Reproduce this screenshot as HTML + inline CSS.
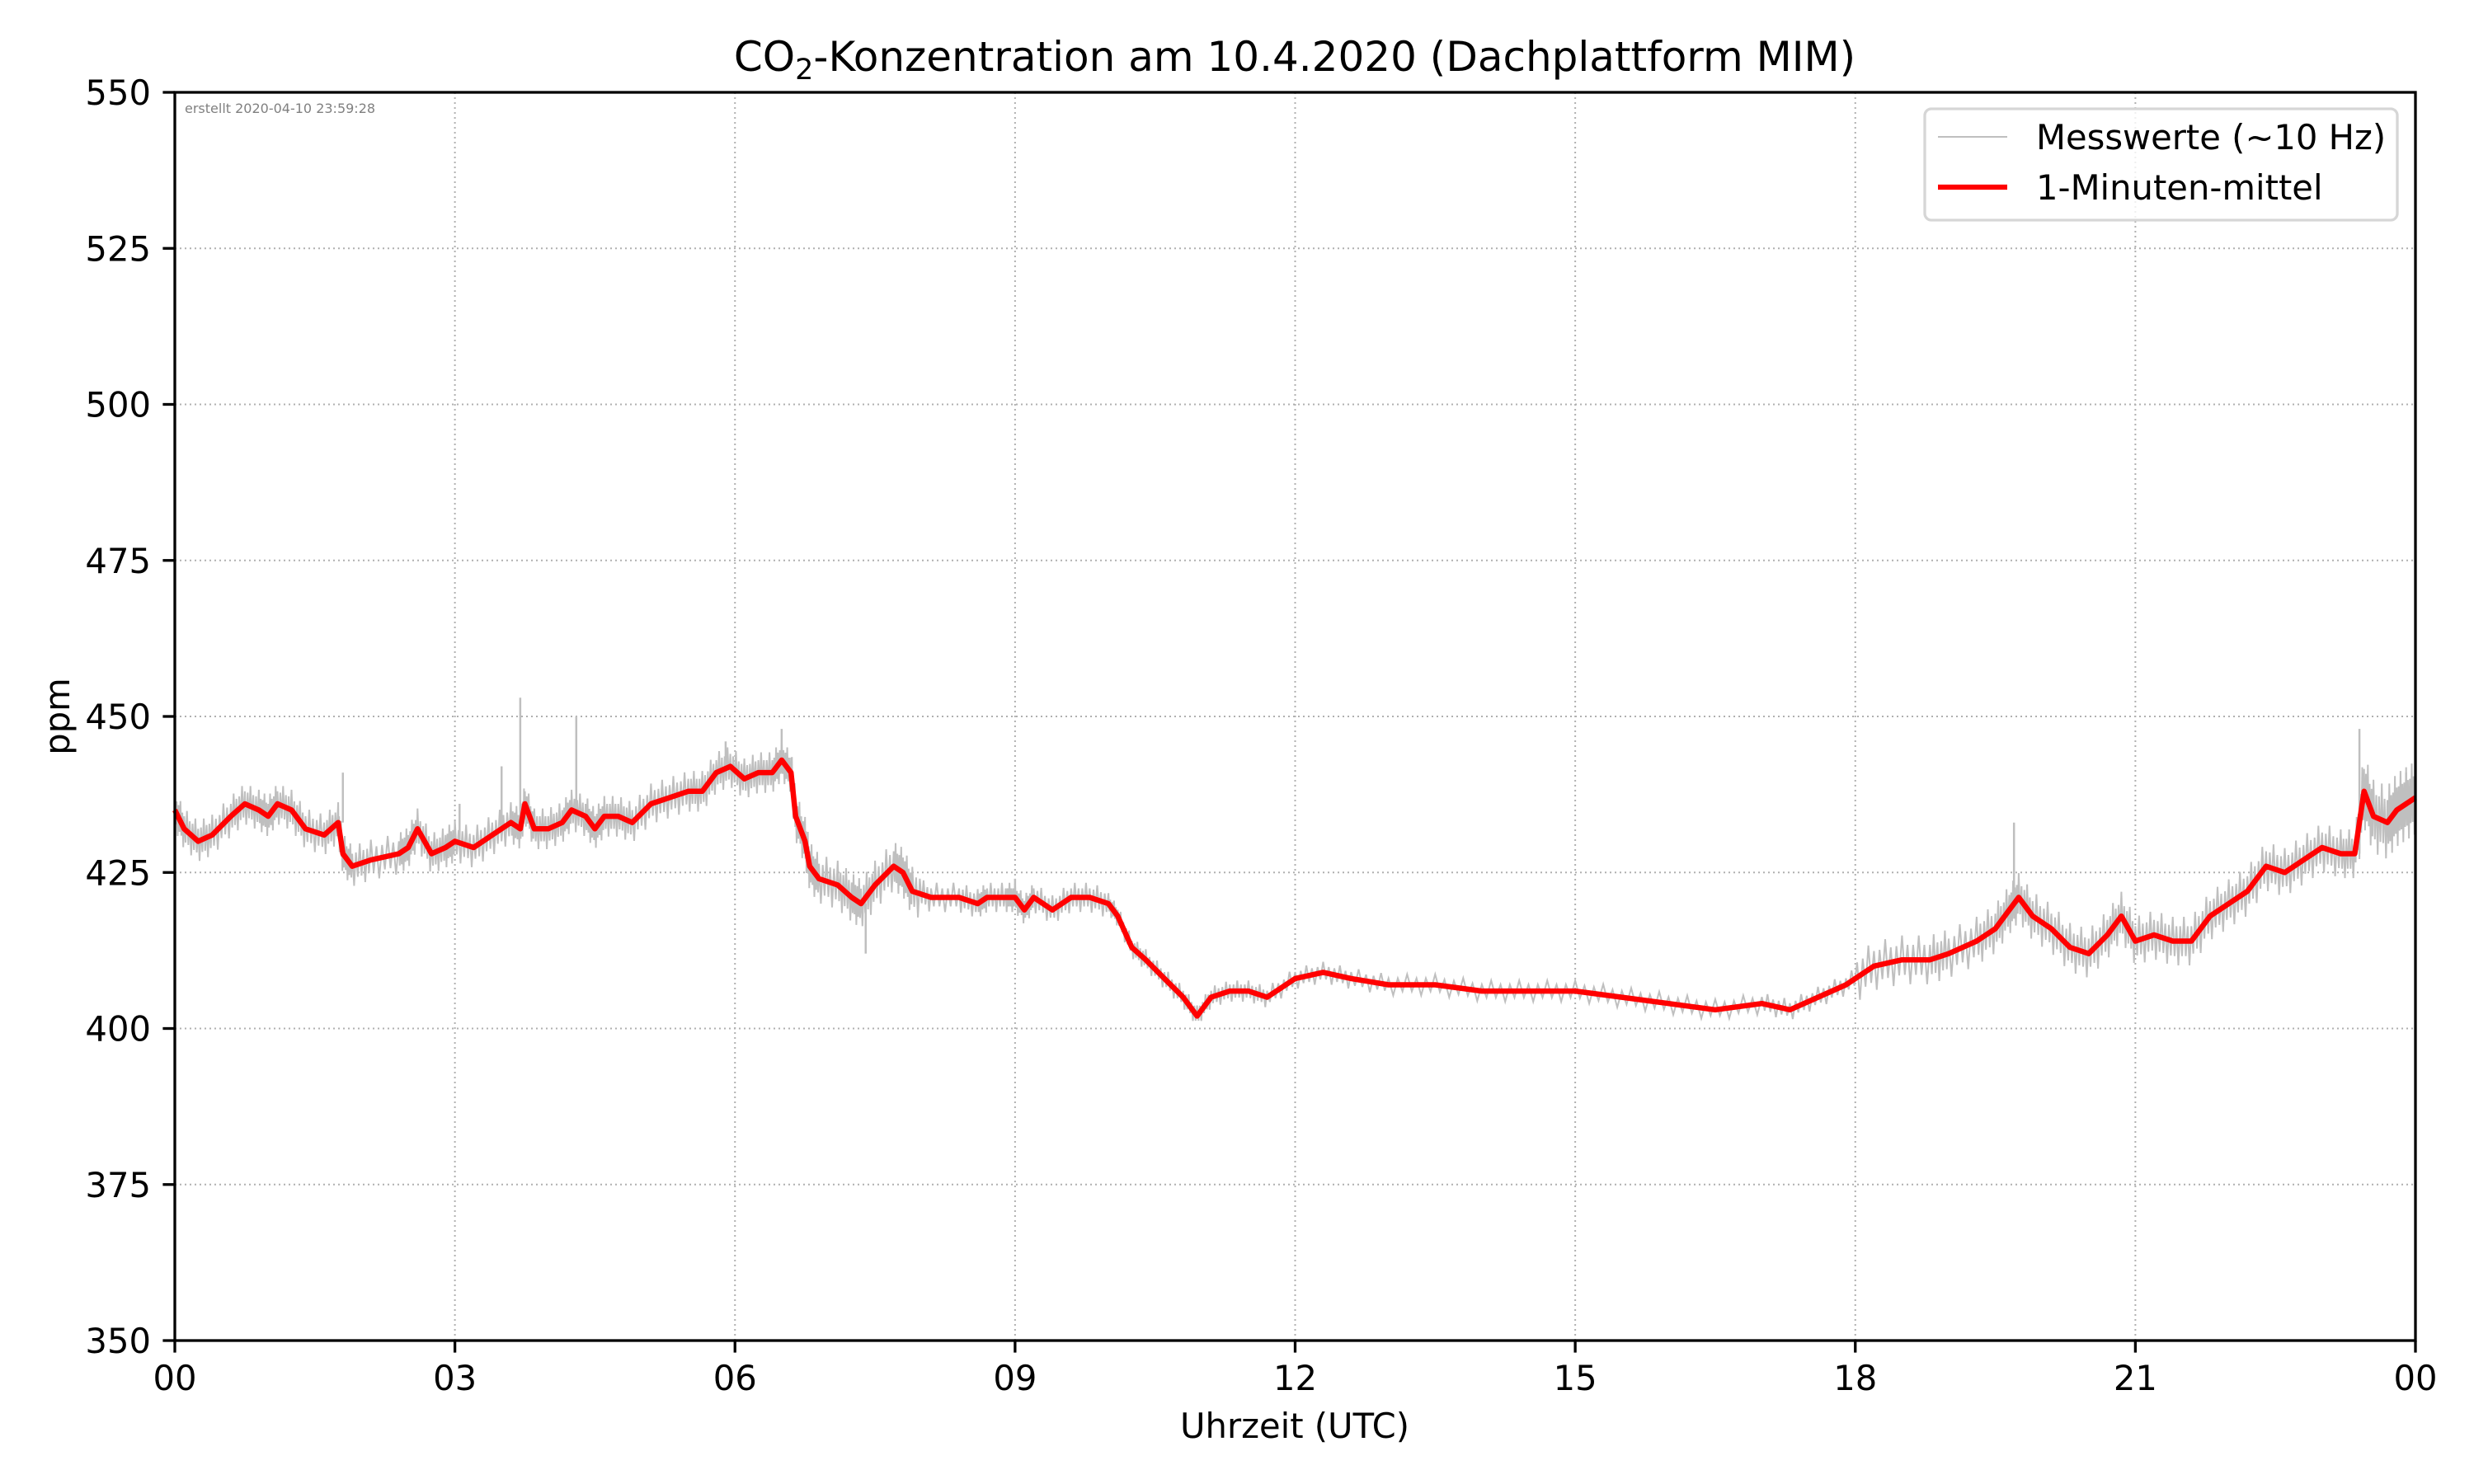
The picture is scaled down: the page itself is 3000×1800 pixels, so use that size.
<!DOCTYPE html>
<html><head><meta charset="utf-8">
<style>
html,body{margin:0;padding:0;background:#fff;}
svg{display:block;font-family:"DejaVu Sans","Liberation Sans",sans-serif;}
</style></head>
<body>
<svg id="chart" width="3000" height="1800" viewBox="0 0 3000 1800" xmlns="http://www.w3.org/2000/svg">
  <rect x="0" y="0" width="3000" height="1800" fill="#fff"/>
  <g id="grid"></g>
  <g id="series"></g>
  <rect x="212" y="112" width="2717" height="1514" fill="none" stroke="#000" stroke-width="3.3"/>
  <g id="axes"></g>
  <text x="1570" y="86" font-size="50" text-anchor="middle">CO<tspan font-size="35" dy="10">2</tspan><tspan dy="-10">-Konzentration am 10.4.2020 (Dachplattform MIM)</tspan></text>
  <text x="1570" y="1744" font-size="41.7" text-anchor="middle">Uhrzeit (UTC)</text>
  <text x="0" y="0" font-size="41.7" text-anchor="middle" transform="translate(84,869) rotate(-90)">ppm</text>
  <text x="224" y="137" font-size="16" fill="#808080">erstellt 2020-04-10 23:59:28</text>
  <g>
    <rect x="2334" y="132" width="573" height="135" rx="8" fill="#fff" fill-opacity="0.8" stroke="#d6d6d6" stroke-width="3.3"/>
    <line x1="2350" y1="166" x2="2434" y2="166" stroke="#bfbfbf" stroke-width="2"/>
    <text x="2469" y="181" font-size="41.7">Messwerte (~10 Hz)</text>
    <line x1="2350" y1="227" x2="2434" y2="227" stroke="#ff0000" stroke-width="6.25"/>
    <text x="2469" y="242" font-size="41.7">1-Minuten-mittel</text>
  </g>
</svg>
<script>
const hours = [0.0,0.1,0.25,0.4,0.6,0.75,0.9,1.0,1.1,1.25,1.4,1.6,1.75,1.8,1.9,2.1,2.4,2.5,2.6,2.75,2.9,3.0,3.2,3.4,3.6,3.7,3.75,3.85,4.0,4.15,4.25,4.4,4.5,4.6,4.75,4.9,5.1,5.3,5.5,5.65,5.8,5.95,6.1,6.25,6.4,6.5,6.6,6.65,6.75,6.8,6.9,7.1,7.25,7.35,7.5,7.7,7.8,7.9,8.1,8.4,8.6,8.7,8.9,9.0,9.1,9.2,9.4,9.6,9.8,10.0,10.1,10.25,10.4,10.6,10.8,10.95,11.1,11.3,11.5,11.7,12.0,12.3,12.6,13.0,13.5,14.0,14.5,15.0,15.5,16.0,16.5,17.0,17.3,17.6,17.9,18.2,18.5,18.8,19.0,19.3,19.5,19.65,19.75,19.9,20.1,20.3,20.5,20.7,20.85,21.0,21.2,21.4,21.6,21.8,22.0,22.2,22.4,22.6,22.8,23.0,23.2,23.35,23.45,23.55,23.7,23.8,23.9,24];
const ppm = [435,432,430,431,434,436,435,434,436,435,432,431,433,428,426,427,428,429,432,428,429,430,429,431,433,432,436,432,432,433,435,434,432,434,434,433,436,437,438,438,441,442,440,441,441,443,441,434,430,426,424,423,421,420,423,426,425,422,421,421,420,421,421,421,419,421,419,421,421,420,418,413,411,408,405,402,405,406,406,405,408,409,408,407,407,406,406,406,405,404,403,404,403,405,407,410,411,411,412,414,416,419,421,418,416,413,412,415,418,414,415,414,414,418,420,422,426,425,427,429,428,428,438,434,433,435,436,437];
const spreadHours = [0,6.6,8,10,18,23.4];
const spreadPpm = [2.5,3,1.8,1.3,3,4.5];
const spikeHours = [1.8,3.05,3.5,3.7,4.3,5.9,6.5,7.4,9.0,19.7,23.4,23.9];
const spikePpm = [441,436,442,453,450,446,448,412,424,433,448,441];
const yTicks = [350,375,400,425,450,475,500,525,550];
const xTicks = [0,3,6,9,12,15,18,21,24];
const xTickLabels = ['00','03','06','09','12','15','18','21','00'];

const NS='http://www.w3.org/2000/svg';
const L=212,R=2929,T=112,B=1626;
function xs(h){return L+h/24*(R-L);}
function ys(v){return T+(550-v)/200*(B-T);}
function mk(tag,attrs,parent){const e=document.createElementNS(NS,tag);for(const k in attrs)e.setAttribute(k,attrs[k]);parent.appendChild(e);return e;}
function spreadAt(h){let s=spreadPpm[0];for(let i=0;i<spreadHours.length;i++){if(h>=spreadHours[i])s=spreadPpm[i];}return s;}

const grid=document.getElementById('grid'), axes=document.getElementById('axes'), series=document.getElementById('series');
yTicks.forEach(v=>{
  const y=ys(v);
  const g=mk('line',{x1:L,x2:R,y1:y,y2:y,stroke:'#b0b0b0','stroke-width':2,'stroke-dasharray':'2,4'},grid);
  
  
  const t=mk('line',{x1:L-14.6,x2:L,y1:y,y2:y,stroke:'#000','stroke-width':3.3},axes);
  
  
  const lb=mk('text',{x:L-29,y:y+15,'font-size':41.7,'text-anchor':'end'},axes);
  lb.textContent=v;
  
  
});
xTicks.forEach((h,i)=>{
  const x=xs(h);
  const g=mk('line',{x1:x,x2:x,y1:T,y2:B,stroke:'#b0b0b0','stroke-width':2,'stroke-dasharray':'2,4'},grid);
  
  
  const t=mk('line',{x1:x,x2:x,y1:B,y2:B+14.6,stroke:'#000','stroke-width':3.3},axes);
  
  
  const lb=mk('text',{x:x,y:B+60,'font-size':41.7,'text-anchor':'middle'},axes);
  lb.textContent=xTickLabels[i];
  
  
});

// raw measurement envelope: dense zigzag between high/low around the mean
const SUB=10;
let pts=[];
let k=0;
for(let i=0;i<hours.length-1;i++){
  for(let j=0;j<SUB;j++){
    const f=j/SUB;
    const h=hours[i]+(hours[i+1]-hours[i])*f;
    const v=ppm[i]+(ppm[i+1]-ppm[i])*f;
    const s=spreadAt(h)*((k%3===0)?1.3:0.8);
    const sign=(k%2===0)?1:-1;
    pts.push(xs(h).toFixed(1)+','+ys(v+sign*s).toFixed(1));
    k++;
  }
}
pts.push(xs(hours[hours.length-1]).toFixed(1)+','+ys(ppm[ppm.length-1]).toFixed(1));
const raw=mk('polyline',{points:pts.join(' '),fill:'none',stroke:'#bfbfbf','stroke-width':2,'stroke-linejoin':'miter'},series);


spikeHours.forEach((h,i)=>{
  let j=0;while(j<hours.length-1&&hours[j+1]<h)j++;
  const base=ppm[j];
  const sp=mk('line',{x1:xs(h),x2:xs(h),y1:ys(base),y2:ys(spikePpm[i]),stroke:'#bfbfbf','stroke-width':2.5},series);
  
  
});
const mp=hours.map((h,i)=>xs(h).toFixed(1)+','+ys(ppm[i]).toFixed(1)).join(' ');
const mean=mk('polyline',{points:mp,fill:'none',stroke:'#ff0000','stroke-width':6.5,'stroke-linejoin':'round'},series);


</script>
</body></html>
